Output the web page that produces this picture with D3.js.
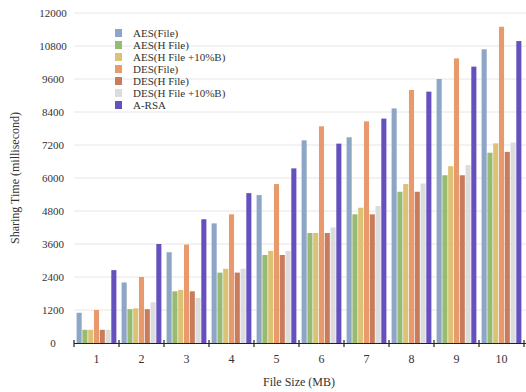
<!DOCTYPE html>
<html><head><meta charset="utf-8">
<script src="https://cdn.jsdelivr.net/npm/d3@7"></script>
<style>body{margin:0;background:#fff}svg{display:block}</style>
</head><body>
<script>
const categories = ["1","2","3","4","5","6","7","8","9","10"];
const seriesNames = ["AES(File)","AES(H File)","AES(H File +10%B)","DES(File)","DES(H File)","DES(H File +10%B)","A-RSA"];
const seriesColors = ["#8ea6c6","#98bb74","#dcc274","#e99a6c","#c97c5c","#dcdcdf","#6650be"];
const aesFile    = [1100,2200,3300,4350,5380,7370,7480,8530,9600,10680];
const aesH       = [480,1230,1880,2560,3200,4000,4680,5500,6100,6920];
const aesH10     = [480,1260,1930,2700,3350,4000,4920,5780,6430,7260];
const desFile    = [1200,2400,3580,4680,5780,7880,8060,9200,10350,11500];
const desH       = [480,1230,1880,2560,3200,4000,4680,5500,6100,6950];
const desH10     = [480,1480,1640,2700,3350,4200,4980,5800,6470,7290];
const aRsa       = [2650,3600,4500,5450,6350,7250,8160,9140,10050,10980];
const yTicks = [0,1200,2400,3600,4800,6000,7200,8400,9600,10800,12000];

const allSeries = [aesFile,aesH,aesH10,desFile,desH,desH10,aRsa];
const W=526,H=392;
const svg=d3.select("body").append("svg").attr("width",W).attr("height",H);
const x=d3.scaleBand().domain(categories).range([74,524]).padding(0);
const xs=d3.scaleBand().domain(seriesNames).range([0,x.bandwidth()]).paddingInner(0.12).paddingOuter(0.45);
const y=d3.scaleLinear().domain([0,12000]).range([343,13]);
const font="Liberation Serif";

// gridlines
svg.append("g").selectAll("line").data(yTicks.filter(d=>d>0)).join("line")
 .attr("x1",74).attr("x2",526).attr("y1",d=>y(d)).attr("y2",d=>y(d))
 .attr("stroke","#e6e6e6").attr("stroke-width",1);
// y labels
svg.append("g").selectAll("text").data(yTicks).join("text")
 .attr("x",53).attr("y",d=>y(d)+4).attr("text-anchor","middle")
 .attr("font-family",font).attr("font-size",11).attr("fill","#333").text(d=>d);

// bars
const g=svg.append("g");
categories.forEach((c,i)=>{
  seriesNames.forEach((s,j)=>{
    g.append("rect").attr("x",x(c)+xs(s)).attr("width",xs.bandwidth())
     .attr("y",y(allSeries[j][i])).attr("height",y(0)-y(allSeries[j][i]))
     .attr("fill",seriesColors[j]);
  });
});

// x axis
svg.append("line").attr("x1",74).attr("x2",526).attr("y1",343.5).attr("y2",343.5).attr("stroke","#222").attr("stroke-width",1.2);
const bounds=categories.map(c=>x(c)).concat([x(categories[9])+x.bandwidth()]);
svg.append("g").selectAll("line").data(bounds).join("line")
 .attr("x1",d=>d).attr("x2",d=>d).attr("y1",340).attr("y2",347).attr("stroke","#222").attr("stroke-width",1.2);
svg.append("g").selectAll("text").data(categories).join("text")
 .attr("x",d=>x(d)+x.bandwidth()/2).attr("y",363).attr("text-anchor","middle")
 .attr("font-family",font).attr("font-size",12).attr("fill","#333").text(d=>d);

svg.append("text").attr("x",299).attr("y",386).attr("text-anchor","middle")
 .attr("font-family",font).attr("font-size",12).attr("fill","#333").text("File Size (MB)");
svg.append("text").attr("transform","translate(19,178) rotate(-90)").attr("text-anchor","middle")
 .attr("font-family",font).attr("font-size",12).attr("fill","#333").text("Sharing Time (millisecond)");

// legend
const lg=svg.append("g");
seriesNames.forEach((s,j)=>{
  const ly=33+j*12;
  lg.append("rect").attr("x",115).attr("y",ly-4).attr("width",7).attr("height",8).attr("fill",seriesColors[j]);
  lg.append("text").attr("x",133).attr("y",ly+3.5).attr("font-family",font).attr("font-size",11).attr("fill","#333").text(s);
});
</script>
</body></html>
